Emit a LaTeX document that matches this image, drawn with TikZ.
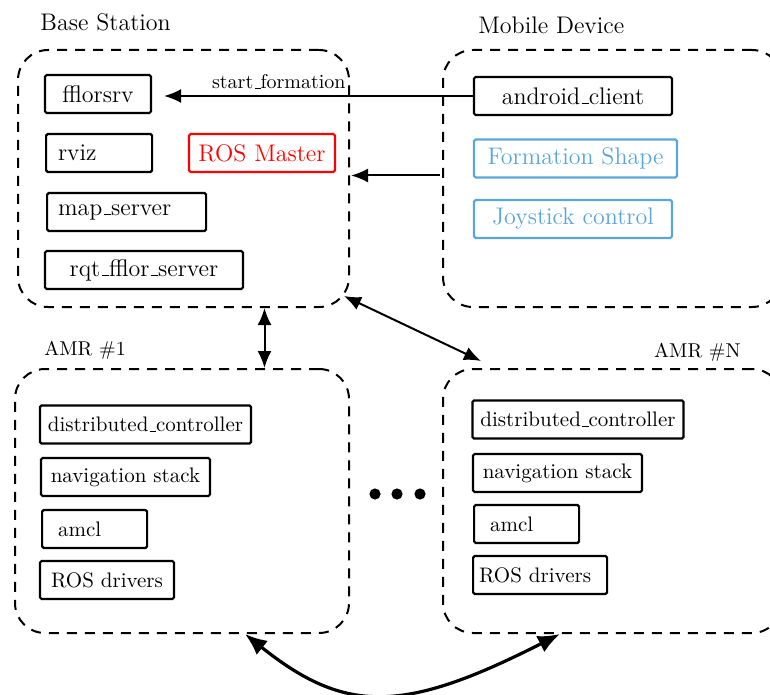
\documentclass[tikz,border=0pt]{standalone}
\usepackage{tikz}
\usetikzlibrary{arrows.meta,positioning,calc}
\definecolor{mobblue}{RGB}{88,166,220}
\newcommand{\usc}{\kern.06em\vbox{\hrule width.3em height .4pt}}

\begin{document}
\begin{tikzpicture}[
    x=0.5pt, y=-0.5pt,
    >={Latex[length=8.5pt,width=7pt]},
    comp/.style={rectangle, draw=black, line width=1.1pt, minimum height=19pt, inner xsep=4pt, inner ysep=0pt, font=\large, rounded corners=0.8pt},
    amrcomp/.style={comp, font=\fontsize{10.5}{12}\selectfont},
    mobcomp/.style={comp, draw=mobblue, text=mobblue},
    group/.style={rectangle, draw=black, dash pattern=on 5pt off 4pt, line width=1pt, rounded corners=15pt},
    grouplabel/.style={font=\large, inner sep=0pt},
    link/.style={->, line width=1pt}
]
\clip (0,0) rectangle (770,695);

% Base Station
\node[group, minimum width=165.5pt, minimum height=128.5pt] (base) at (183.5,178.5) {};
\node[grouplabel, anchor=west] (baselbl) at (40,22) {Base Station};
\node[comp, minimum width=53pt] (fflor) at (98,94) {fflorsrv};
\node[comp, anchor=west, inner xsep=6pt, text width=41pt, align=left] (rviz) at (45,153) {rviz};
\node[comp, draw=red, text=red, minimum width=73pt] (master) at (262,153) {ROS Master};
\node[comp, anchor=west, inner xsep=5.5pt, text width=68.5pt, align=left] (mapsrv) at (46,212) {map\usc server};
\node[comp, minimum width=99pt] (rqt) at (144,270) {rqt\usc fflor\usc server};

% Mobile Device
\node[group, minimum width=169.5pt, minimum height=128.5pt] (mobile) at (612.5,178.5) {};
\node[grouplabel, anchor=west] (mobilelbl) at (478,25) {Mobile Device};
\node[comp, minimum width=99pt] (android) at (573,96) {android\usc client};
\node[mobcomp, minimum width=101.5pt] (shape) at (575.5,158.5) {Formation Shape};
\node[mobcomp, minimum width=99pt] (joy) at (573,219) {Joystick control};

% AMR #1
\node[group, minimum width=167pt, minimum height=132pt] (amrone) at (182,501) {};
\node[anchor=west, inner sep=0pt] (amronelbl) at (44,350) {AMR \#1};
\node[amrcomp, minimum width=103.5pt] (dcone) at (145.5,424.5) {distributed\usc controller};
\node[amrcomp, minimum width=84.5pt] (navone) at (125.5,477) {navigation stack};
\node[amrcomp, anchor=west, inner xsep=8pt, text width=36.5pt, align=left] (amclone) at (41,529) {amcl};
\node[amrcomp, minimum width=67pt] (drvone) at (107,580) {ROS drivers};

% AMR #N
\node[group, minimum width=169.5pt, minimum height=132pt] (amrn) at (612.5,501) {};
\node[anchor=east, inner sep=0pt] (amrnlbl) at (741,352) {AMR \#N};
\node[amrcomp, minimum width=104pt] (dcn) at (578,419.5) {distributed\usc controller};
\node[amrcomp, minimum width=84.5pt] (navn) at (557.5,473) {navigation stack};
\node[amrcomp, anchor=west, inner xsep=8pt, text width=36.5pt, align=left] (amcln) at (473,524) {amcl};
\node[amrcomp, anchor=west, inner xsep=3pt, text width=61pt, align=left] (drvn) at (472,575) {ROS drivers};

% dots between robots
\foreach \dx in {375,397,420}
    \fill (\dx,494) circle[radius=2.8pt];

% Connections
\draw[link, shorten >=6pt] (android.west) -- (android.west -| fflor.east);
\node[anchor=base east, inner sep=0pt] (startlbl) at (346,89) {start\usc formation};
\draw[link] ($(mobile.west)+(-2,-3)$) -- ($(base.east)+(1,-3)$);
\draw[link, <->] ($(base.south)+(81,0)$) -- ($(amrone.north)+(82.5,0)$);
\draw[link, <->] ($(base.south east)+(-6,-12)$) -- ($(amrn.north west)+(39,-7)$);
\draw[<->, line width=1.6pt, >={Latex[length=11pt,width=9pt]}] ($(amrone.south)+(63,0)$) .. controls +(100,80) and +(-157,80) .. ($(amrn.south)+(-52.5,0)$);

\end{tikzpicture}
\end{document}
